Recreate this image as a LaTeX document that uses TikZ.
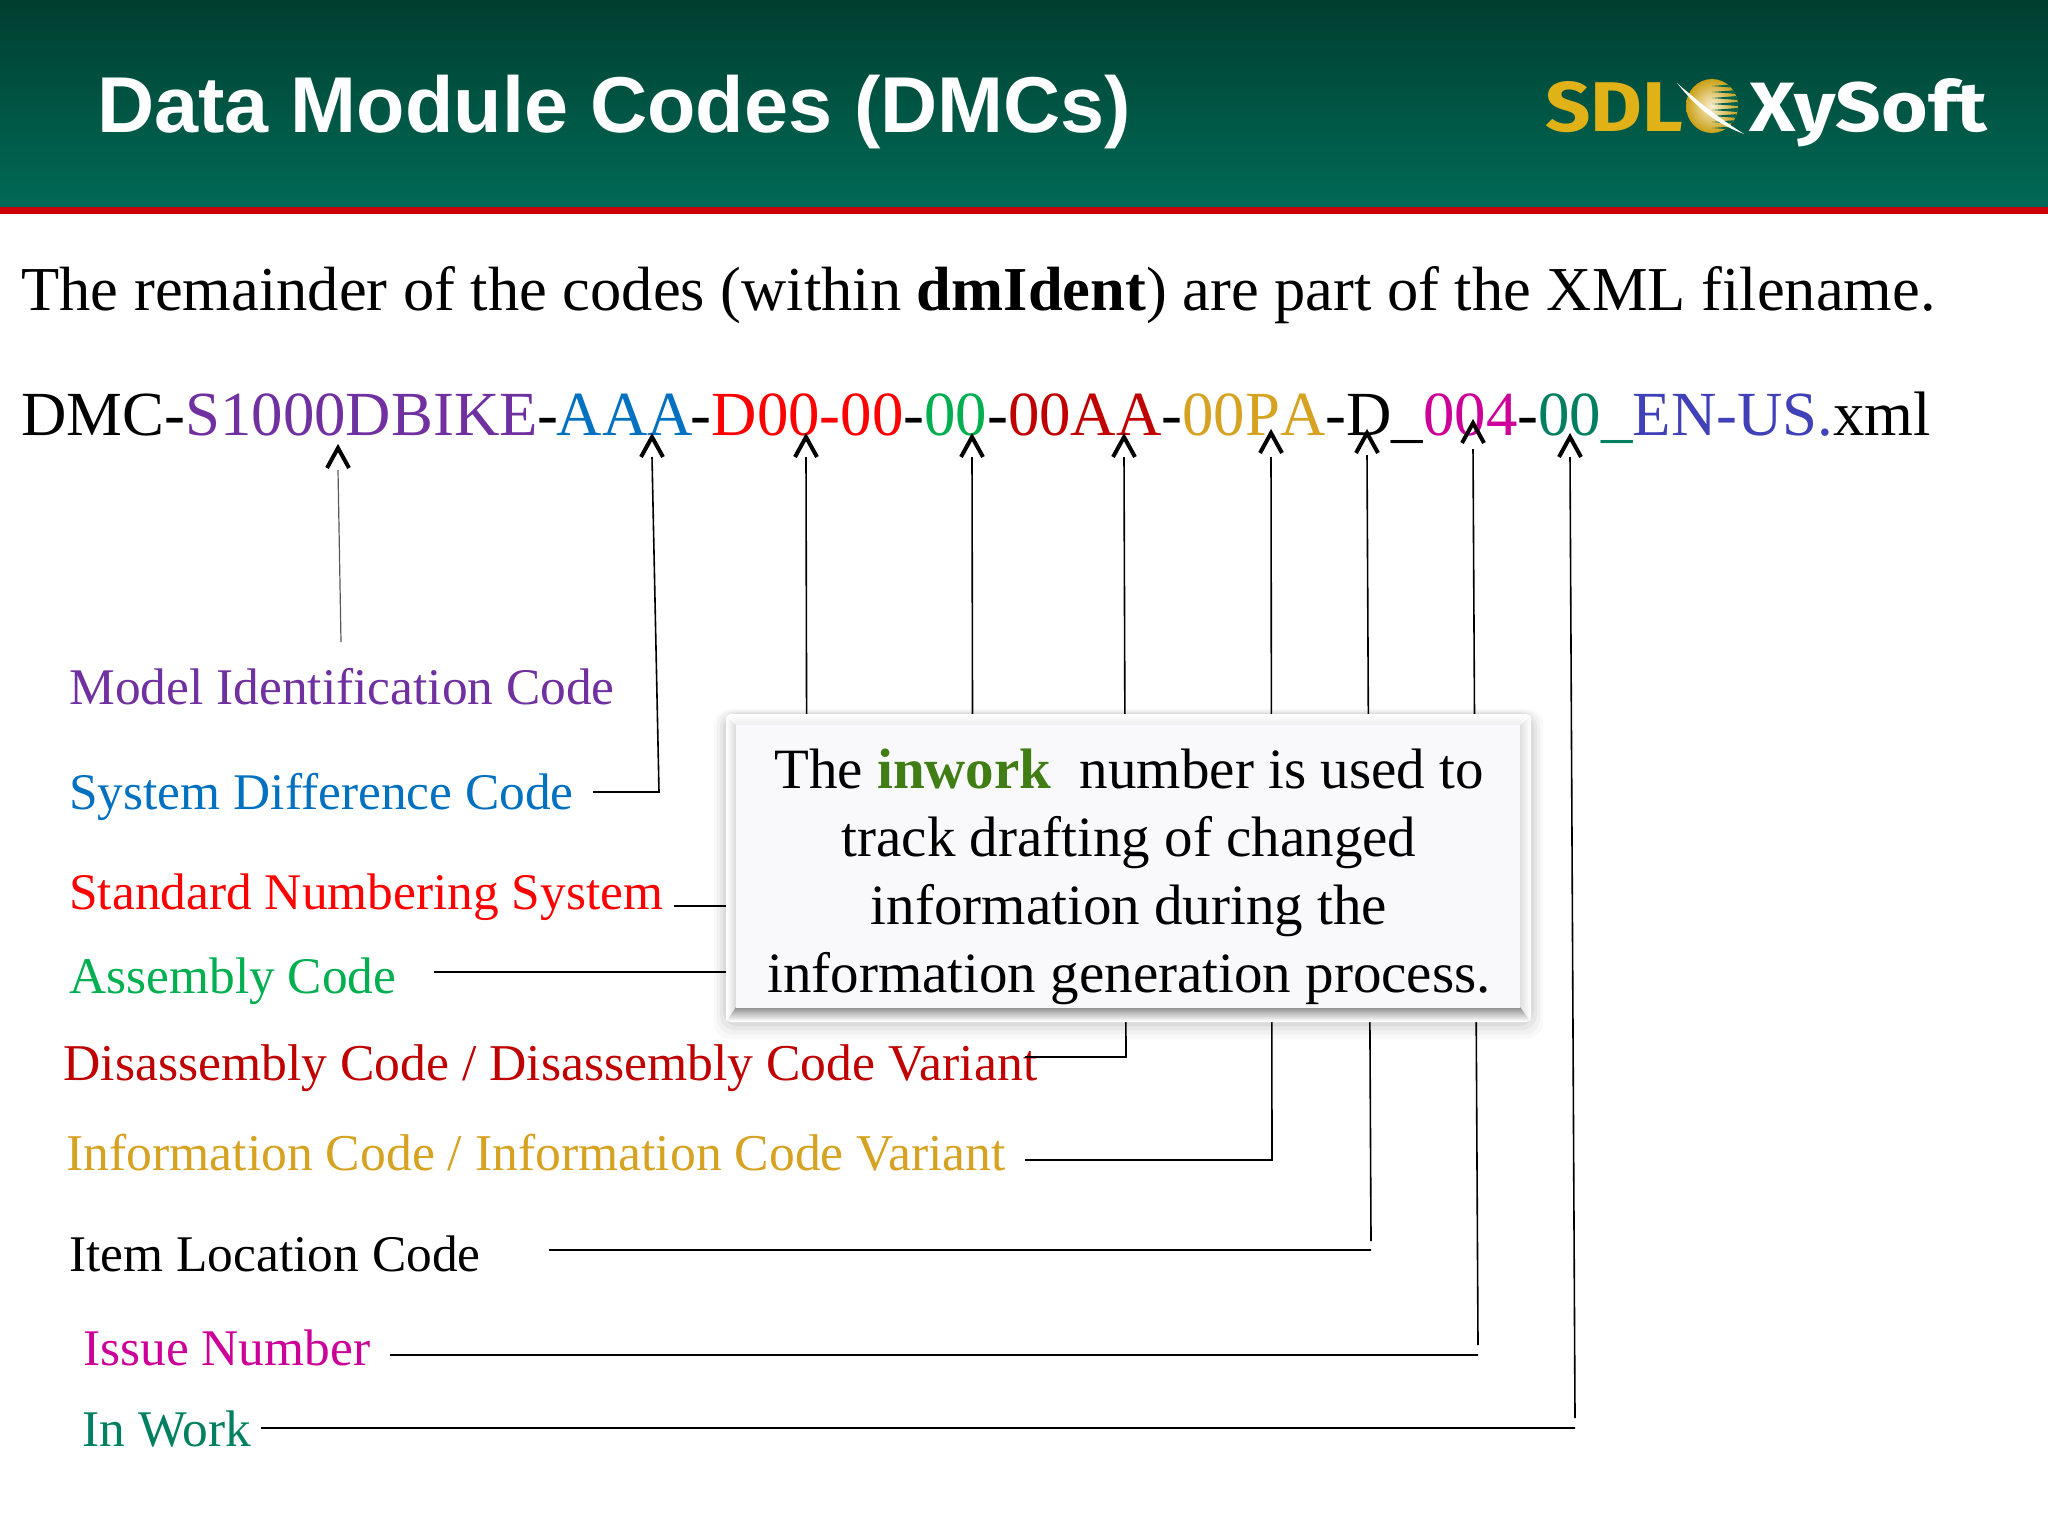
\documentclass[tikz,border=0pt]{standalone}
\usepackage{fontspec}
\usepackage{graphicx}
\setmainfont{Liberation Serif}
\newfontfamily\titlefont{Liberation Sans}
\newfontfamily\logofont{Fira Sans}
\usetikzlibrary{calc}
\definecolor{hTop}{RGB}{0,62,47}
\definecolor{hBot}{RGB}{0,106,86}
\definecolor{cRed}{RGB}{204,0,0}
\definecolor{cPurple}{RGB}{112,48,160}
\definecolor{cBlue}{RGB}{0,112,192}
\definecolor{cPure}{RGB}{255,0,0}
\definecolor{cGreen}{RGB}{0,176,80}
\definecolor{cDark}{RGB}{192,0,0}
\definecolor{cGold}{RGB}{214,162,34}
\definecolor{cMag}{RGB}{204,0,153}
\definecolor{cTeal}{RGB}{0,128,96}
\definecolor{cIndigo}{RGB}{64,64,184}
\definecolor{cInwork}{RGB}{64,125,20}
\definecolor{logoGold}{RGB}{224,178,24}
\tikzset{
  wire/.style={draw=black,line width=0.8pt},
  thinwire/.style={draw=black!65,line width=0.6pt},
  caretstyle/.style={draw=black,line width=2pt,miter limit=10},
  lab/.style={anchor=base west,inner sep=0pt,font=\fontsize{25.7pt}{30pt}\selectfont},
  widelab/.style={anchor=base west,inner sep=0pt,font=\fontsize{25.82pt}{30pt}\selectfont},
  bigline/.style={anchor=base west,inner sep=0pt},
  panel/.style={inner sep=0pt,minimum width=392pt,minimum height=141.5pt},
  paneltext/.style={inner sep=0pt,align=center,font=\fontsize{28.5pt}{34pt}\selectfont}
}
\newcommand{\caretat}[1]{\draw[caretstyle] ([shift={(-11,20)}]#1) -- (#1) -- ([shift={(11,20)}]#1);}
\begin{document}
\begin{tikzpicture}[x=0.5pt,y=-0.5pt]
\useasboundingbox (0,0) rectangle (2048,1536);
\fill[white] (0,0) rectangle (2048,1536);
% header
\shade[top color=hTop,bottom color=hBot,draw=none] (0,0) rectangle (2048,207);
\fill[cRed] (0,207) rectangle (2048,214);
\node[anchor=base west,inner sep=0pt,text=white,font=\titlefont\bfseries\fontsize{39.6pt}{44pt}\selectfont] (title) at (97,133) {Data Module Codes (DMCs)};
% logo
\node[anchor=base west,inner sep=0pt,text=logoGold] (logoSDL) at (1545,132) {\resizebox{69pt}{25pt}{\logofont\bfseries SDL}};
\begin{scope}
\clip (1712,106) ellipse [x radius=26,y radius=27];
\shade[inner color=white!80!logoGold,outer color=logoGold!90!black] (1686,79) rectangle (1738,133);
\foreach \yy in {86,92,98,104,110,116,122,128}{
  \fill[hBot!85!hTop] (1740,\yy-2.2) -- (1712,\yy) -- (1740,\yy+2.2) -- cycle;
}
\end{scope}
\fill[white] (1677,83) .. controls (1700,112) and (1720,125) .. (1744,134) .. controls (1722,120) and (1702,105) .. (1677,83) -- cycle;
\node[anchor=base west,inner sep=0pt,text=white] (logoXy) at (1749,132) {\resizebox{119pt}{26.5pt}{\logofont\bfseries XySoft}};
% text lines
\node[bigline,font=\fontsize{31.25pt}{36pt}\selectfont] (intro) at (21,310) {The remainder of the codes (within \textbf{dmIdent}) are part of the XML filename.};
\node[bigline,font=\fontsize{31.4pt}{36pt}\selectfont] (code) at (21,435) {DMC-\textcolor{cPurple}{S1000DBIKE}-\kern-1pt\textcolor{cBlue}{AAA}\kern-1pt-\textcolor{cPure}{D00-00}-\textcolor{cGreen}{00}-\textcolor{cDark}{00AA}-\textcolor{cGold}{00P\kern0pt{}A}-D\_\textcolor{cMag}{004}-\textcolor{cTeal}{00\_}\textcolor{cIndigo}{EN-US.}xml};
% labels
\node[lab,text=cPurple] (lModel) at (69,704.5) {Model Identification Code};
\node[lab,text=cBlue] (lSys) at (69,809.5) {System Difference Code};
\node[lab,text=cPure] (lStd) at (69,909.5) {Standard Numbering System};
\node[lab,text=cGreen] (lAsm) at (69,993.5) {Assembly Code};
\node[widelab,text=cDark] (lDis) at (63,1080.5) {Disassembly Code / Disassembly Code Variant};
\node[widelab,text=cGold] (lInfo) at (66,1170.5) {Information Code / Information Code Variant};
\node[lab,text=black] (lItem) at (69,1271.5) {Item Location Code};
\node[lab,text=cMag] (lIssue) at (83,1365.5) {Issue Number};
\node[lab,text=cTeal] (lWork) at (82,1446.5) {In Work};
% connector anchors
\coordinate (t1) at (338,448); \coordinate (t2) at (652,437); \coordinate (t3) at (806,437);
\coordinate (t4) at (972,437); \coordinate (t5) at (1124,437); \coordinate (t6) at (1271,433);
\coordinate (t7) at (1367,433); \coordinate (t8) at (1473,423); \coordinate (t9) at (1570,437);
\coordinate (sSys) at (593,792); \coordinate (bSys) at (659,792);
\coordinate (sStd) at (674,906); \coordinate (bStd) at (807,906);
\coordinate (sAsm) at (434,972); \coordinate (bAsm) at (973,972);
\coordinate (sDis) at (1025,1057); \coordinate (bDis) at (1126,1057);
\coordinate (sInfo) at (1025,1160); \coordinate (bInfo) at (1272,1160);
\coordinate (sItem) at (549,1250); \coordinate (bItem) at (1371,1250); \coordinate (vItem) at (1371,1241);
\coordinate (sIssue) at (390,1355); \coordinate (bIssue) at (1478,1355); \coordinate (vIssue) at (1478,1345);
\coordinate (sWork) at (261,1428); \coordinate (bWork) at (1575,1428); \coordinate (vWork) at (1575,1418);
\coordinate (sModel) at (341,642);
% connectors (the panel hides their middle part)
\draw[thinwire] (sModel) -- ($(t1)+(0,22)$);
\draw[wire] (sSys) -- (bSys) -- ($(t2)+(0,20)$);
\draw[wire] (sStd) -- (bStd) -- ($(t3)+(0,20)$);
\draw[wire] (sAsm) -- (bAsm) -- ($(t4)+(0,20)$);
\draw[wire] (sDis) -- (bDis) -- ($(t5)+(0,20)$);
\draw[wire] (sInfo) -- (bInfo) -- ($(t6)+(0,24)$);
\draw[wire] (sItem) -- (bItem) (vItem) -- ($(t7)+(0,22)$);
\draw[wire] (sIssue) -- (bIssue) (vIssue) -- ($(t8)+(0,26)$);
\draw[wire] (sWork) -- (bWork) (vWork) -- ($(t9)+(0,20)$);
\caretat{t1}\caretat{t2}\caretat{t3}\caretat{t4}\caretat{t5}\caretat{t6}\caretat{t7}\caretat{t8}\caretat{t9}
% panel shadow and frame
\foreach \g/\o in {12/0.025,9/0.03,6/0.04,3/0.05}{
  \fill[black,opacity=\o,rounded corners=8pt] (726-\g,714-\g*0.4) rectangle (1531+\g,1022+\g*1.4);
}
\fill[white,rounded corners=2.5pt] (726,714) rectangle (1531,1022);
\shade[left color=white,right color=black!15] (726.5,716) -- (736,725) -- (736,1013) -- (726.5,1020) -- cycle;
\shade[left color=black!12,right color=white] (1520,725) -- (1530.5,716) -- (1530.5,1020) -- (1520,1013) -- cycle;
\shade[top color=white,bottom color=black!7] (730,714.5) -- (1527,714.5) -- (1520,725) -- (736,725) -- cycle;
\shade[top color=black!45,bottom color=white] (736,1007) -- (1520,1007) -- (1530,1021) -- (727,1021) -- cycle;
\node[panel,fill={rgb,255:red,249;green,249;blue,252}] (box) at (1128,866) {};
\node[paneltext] (boxText) at (1129,877) {The \textcolor{cInwork}{\textbf{inwork}}\ \ number is used to\\track drafting of changed\\information during the\\information generation process.};
\end{tikzpicture}
\end{document}
